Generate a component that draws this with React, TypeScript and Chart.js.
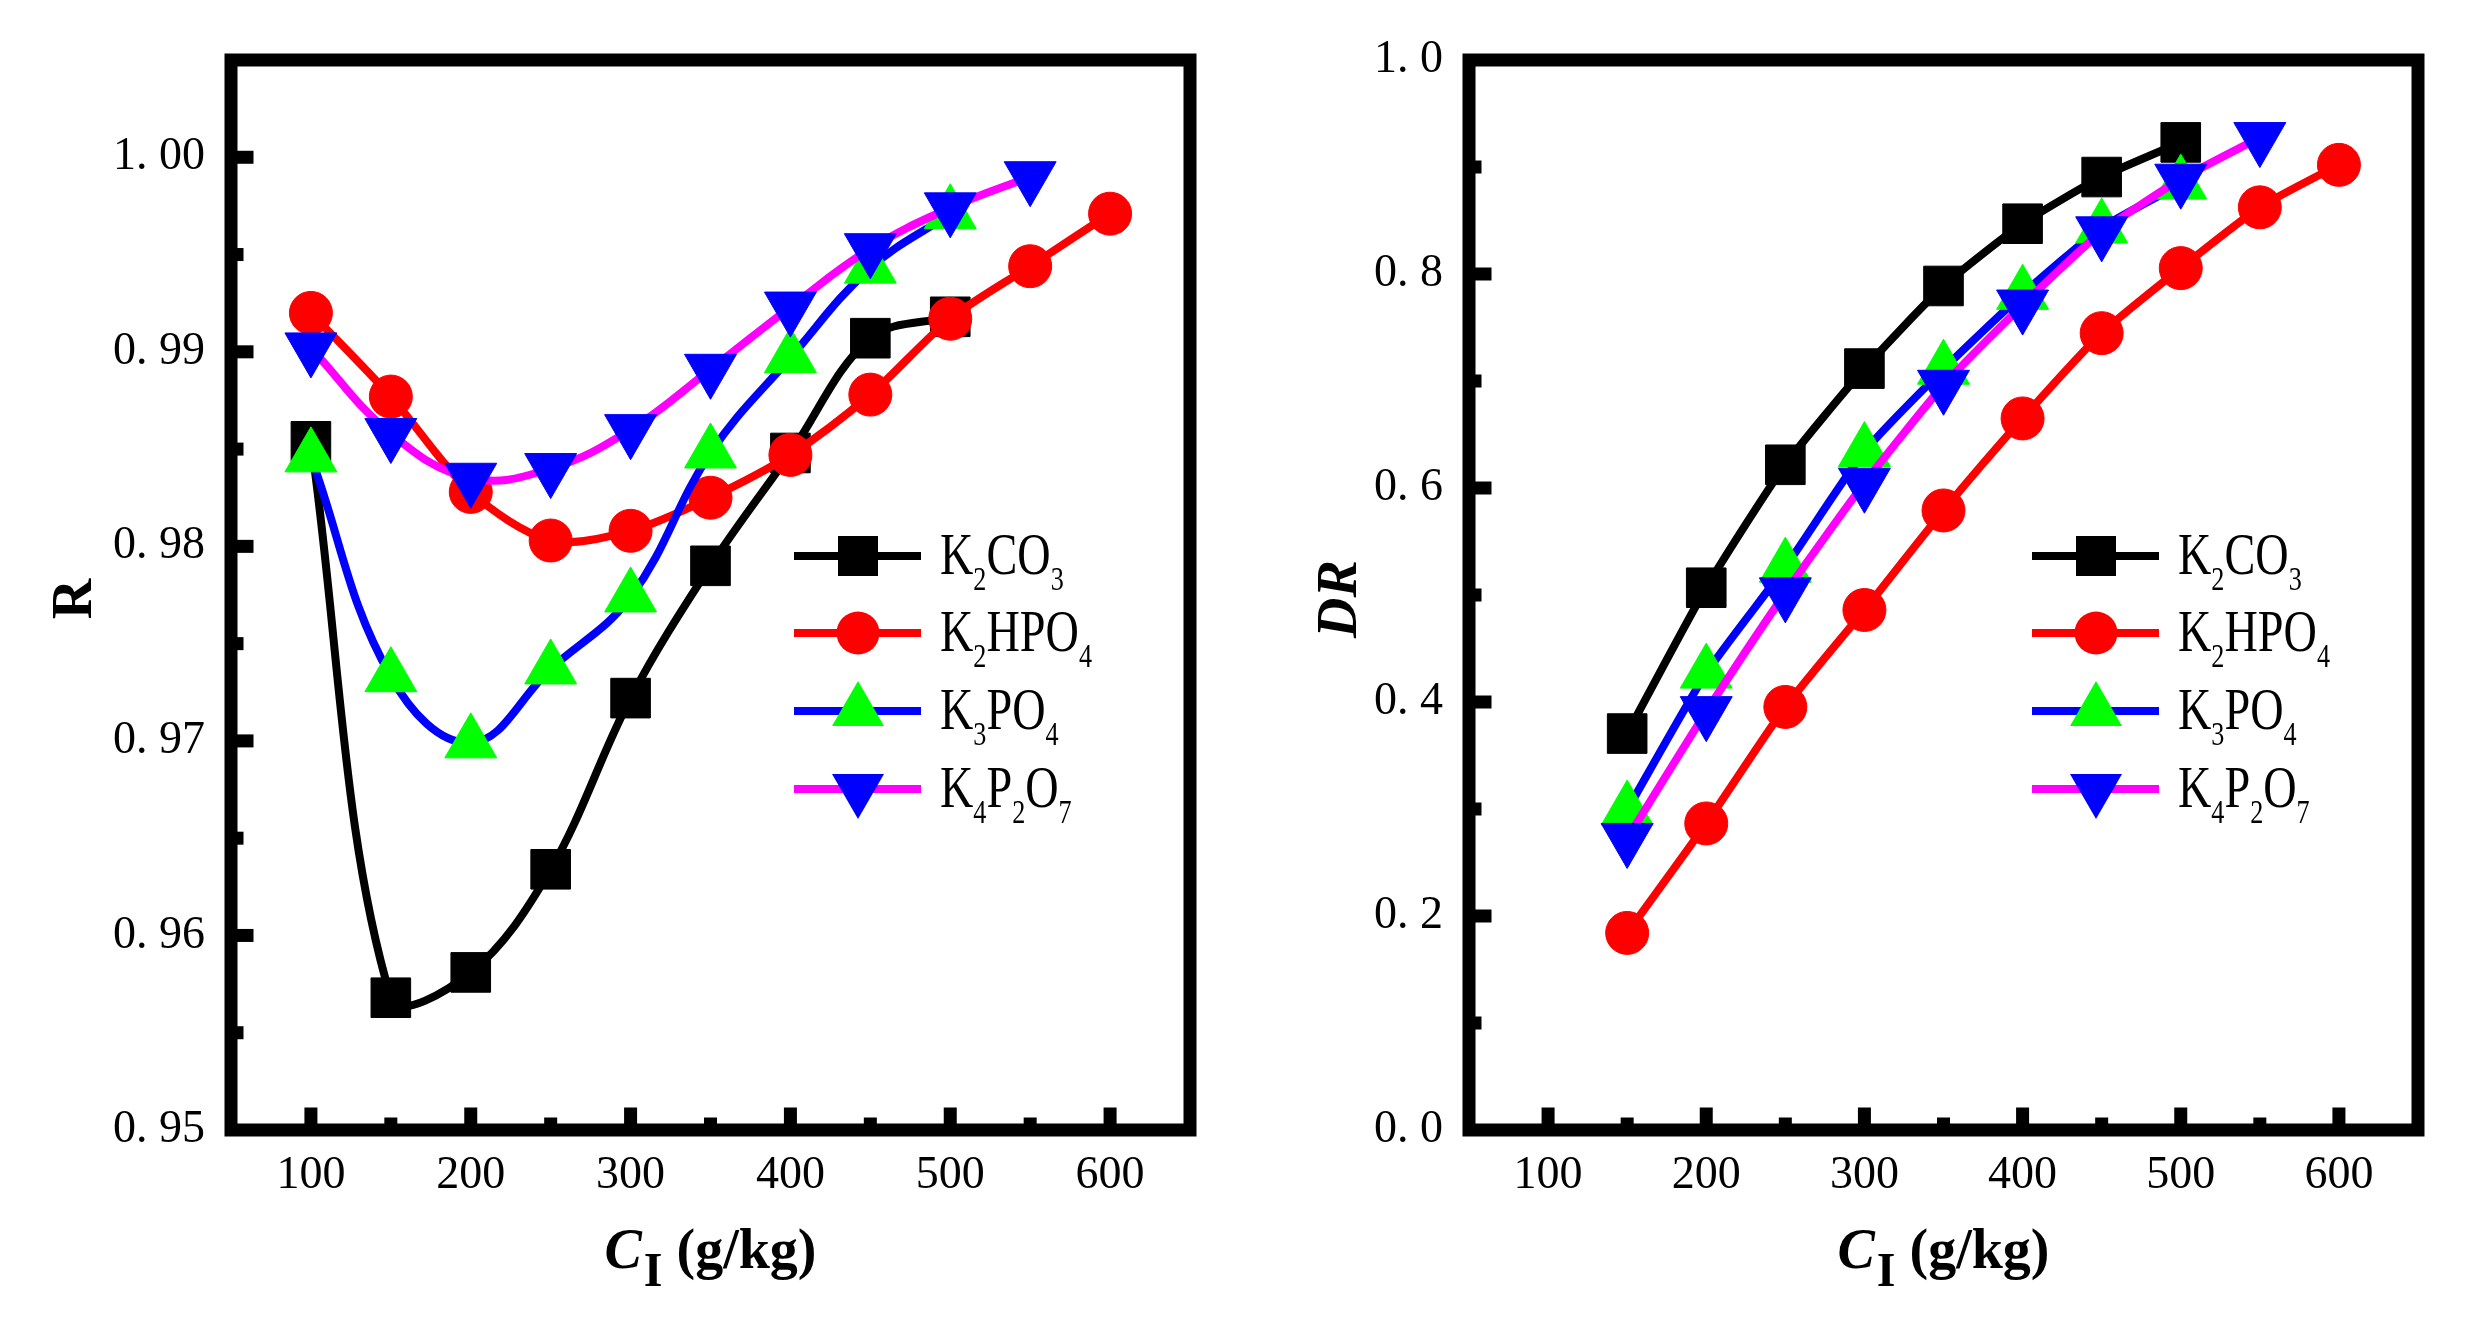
import React, { useEffect, useRef } from 'react';
import { Chart, registerables } from 'chart.js';

Chart.register(...registerables);

// ---------- data ----------
const SERIES_NAMES = ['K2CO3', 'K2HPO4', 'K3PO4', 'K4P2O7'];
const SERIES_LABELS = ['K₂CO₃', 'K₂HPO₄', 'K₃PO₄', 'K₄P₂O₇'];
const LINE_COLORS = ['#000000', '#ff0000', '#0000ff', '#ff00ff'];
const MARKER_COLORS = ['#000000', '#ff0000', '#00ff00', '#0000ff'];
const MARKER_STYLES = ['square', 'circle', 'triangleUp', 'triangleDown'];

const X_TICKS = [100, 200, 300, 400, 500, 600];

// Left panel: R
const R_X_K2CO3 = [100, 150, 200, 250, 300, 350, 400, 450, 500];
const R_K2CO3 = [0.9854, 0.9568, 0.9581, 0.9634, 0.9722, 0.979, 0.9848, 0.9907, 0.9918];
const R_X_K2HPO4 = [100, 150, 200, 250, 300, 350, 400, 450, 500, 550, 600];
const R_K2HPO4 = [0.992, 0.9877, 0.9828, 0.9803, 0.9808, 0.9825, 0.9847, 0.9878, 0.9917, 0.9944, 0.9971];
const R_X_K3PO4 = [100, 150, 200, 250, 300, 350, 400, 450, 500];
const R_K3PO4 = [0.9846, 0.9733, 0.9699, 0.9737, 0.9774, 0.9848, 0.9897, 0.9943, 0.9971];
const R_X_K4P2O7 = [100, 150, 200, 250, 300, 350, 400, 450, 500, 550];
const R_K4P2O7 = [0.9902, 0.9858, 0.9835, 0.984, 0.986, 0.9891, 0.9923, 0.9953, 0.9974, 0.999];
const R_Y_TICKS = [0.95, 0.96, 0.97, 0.98, 0.99, 1.0];

// Right panel: DR
const DR_X_K2CO3 = [150, 200, 250, 300, 350, 400, 450, 500];
const DR_K2CO3 = [0.3705, 0.5068, 0.6217, 0.7116, 0.7888, 0.847, 0.8906, 0.923];
const DR_X_K2HPO4 = [150, 200, 250, 300, 350, 400, 450, 500, 550, 600];
const DR_K2HPO4 = [0.1842, 0.2865, 0.3954, 0.486, 0.579, 0.665, 0.7447, 0.8055, 0.8623, 0.902];
const DR_X_K3PO4 = [150, 200, 250, 300, 350, 400, 450, 500];
const DR_K3PO4 = [0.299, 0.427, 0.526, 0.634, 0.711, 0.781, 0.843, 0.884];
const DR_X_K4P2O7 = [150, 200, 250, 300, 350, 400, 450, 500, 550];
const DR_K4P2O7 = [0.2725, 0.391, 0.502, 0.6045, 0.696, 0.771, 0.8394, 0.8886, 0.9275];
const DR_Y_TICKS = [0.0, 0.2, 0.4, 0.6, 0.8, 1.0];

// ---------- styling ----------
const FONT = '"Liberation Serif", "Times New Roman", serif';
const FRAME_W = 13;
const MAJOR_LEN = 16;
const MINOR_LEN = 6;

function isMember(list: number[], v: number) {
  return list.some((t) => Math.abs(t - v) < 1e-7);
}

function drawMarker(ctx: CanvasRenderingContext2D, style: string, cx: number, cy: number, color: string) {
  ctx.fillStyle = color;
  ctx.beginPath();
  if (style === 'square') {
    ctx.rect(cx - 20, cy - 20, 40, 40);
  } else if (style === 'circle') {
    ctx.arc(cx, cy, 21.5, 0, Math.PI * 2);
  } else if (style === 'triangleUp') {
    ctx.moveTo(cx, cy - 30);
    ctx.lineTo(cx + 26, cy + 15);
    ctx.lineTo(cx - 26, cy + 15);
    ctx.closePath();
  } else {
    ctx.moveTo(cx, cy + 30);
    ctx.lineTo(cx + 26, cy - 15);
    ctx.lineTo(cx - 26, cy - 15);
    ctx.closePath();
  }
  ctx.fill();
}

function drawFormula(ctx: CanvasRenderingContext2D, f: string, x: number, y: number) {
  ctx.save();
  ctx.translate(x, y);
  ctx.scale(0.77, 1);
  ctx.fillStyle = '#000';
  ctx.textBaseline = 'alphabetic';
  ctx.textAlign = 'left';
  const runs = f.match(/\d+|\D+/g) || [];
  let cx = 0;
  for (const run of runs) {
    const sub = /\d/.test(run);
    ctx.font = sub ? `34px ${FONT}` : `60px ${FONT}`;
    ctx.fillText(run, cx, sub ? 16 : 0);
    cx += ctx.measureText(run).width;
  }
  ctx.restore();
}

type PanelCfg = {
  yTitle: string;
  yItalic: boolean;
  yTitleX: number;
  padRight: number;
  yAxisWidth: number;
  yMin: number;
  yMax: number;
  yStep: number;
  yMajor: number[];
  yDigits: number;
  xs: number[][];
  ys: number[][];
  tension: number[];
};

function makeDecorPlugin(cfg: PanelCfg) {
  return {
    id: 'decor',
    afterDatasetsDraw(chart: any) {
      const { ctx, chartArea: a } = chart;
      const xs = chart.scales.x;
      const ys = chart.scales.y;
      const half = FRAME_W / 2;
      ctx.save();
      ctx.fillStyle = '#000';
      xs.ticks.forEach((t: any) => {
        if (t.value <= xs.min + 1e-9 || t.value >= xs.max - 1e-9) return;
        const len = isMember(X_TICKS, t.value) ? MAJOR_LEN : MINOR_LEN;
        const px = xs.getPixelForValue(t.value);
        ctx.fillRect(px - half, a.bottom - half - len, FRAME_W, len + half);
      });
      ys.ticks.forEach((t: any) => {
        if (t.value <= ys.min + 1e-9 || t.value >= ys.max - 1e-9) return;
        const len = isMember(cfg.yMajor, t.value) ? MAJOR_LEN : MINOR_LEN;
        const py = ys.getPixelForValue(t.value);
        ctx.fillRect(a.left, py - half, half + len, FRAME_W);
      });
      ctx.lineWidth = FRAME_W;
      ctx.strokeStyle = '#000';
      ctx.lineJoin = 'miter';
      ctx.strokeRect(a.left, a.top, a.right - a.left, a.bottom - a.top);
      ctx.restore();
    },
    afterDraw(chart: any) {
      const { ctx, chartArea: a } = chart;
      ctx.save();
      // legend
      const rows = [556, 633, 711, 789];
      SERIES_NAMES.forEach((name, i) => {
        const y = rows[i];
        const x0 = a.left + 563;
        const x1 = a.left + 690;
        ctx.strokeStyle = LINE_COLORS[i];
        ctx.lineWidth = 8;
        ctx.lineCap = 'butt';
        ctx.beginPath();
        ctx.moveTo(x0, y);
        ctx.lineTo(x1, y);
        ctx.stroke();
        drawMarker(ctx, MARKER_STYLES[i], a.left + 627, y, MARKER_COLORS[i]);
        drawFormula(ctx, name, a.left + 709, y + 18);
      });
      // x title: C_I (g/kg)
      ctx.fillStyle = '#000';
      ctx.textBaseline = 'alphabetic';
      ctx.textAlign = 'left';
      const base = 1268;
      const fC = `italic bold 56px ${FONT}`;
      const fI = `bold 48px ${FONT}`;
      const fU = `bold 56px ${FONT}`;
      ctx.font = fC;
      const wC = ctx.measureText('C').width;
      ctx.font = fI;
      const wI = ctx.measureText('I').width;
      ctx.font = fU;
      const unit = ' (g/kg)';
      const wU = ctx.measureText(unit).width;
      const total = wC + 2 + wI + wU;
      let x = (a.left + a.right) / 2 - total / 2;
      ctx.font = fC;
      ctx.fillText('C', x, base);
      x += wC + 2;
      ctx.font = fI;
      ctx.fillText('I', x, base + 18);
      x += wI;
      ctx.font = fU;
      ctx.fillText(unit, x, base);
      // y title
      ctx.translate(cfg.yTitleX, (a.top + a.bottom) / 2 + 4);
      ctx.rotate(-Math.PI / 2);
      ctx.textAlign = 'center';
      ctx.textBaseline = 'middle';
      ctx.font = `${cfg.yItalic ? 'italic ' : ''}bold 56px ${FONT}`;
      ctx.fillText(cfg.yTitle, 0, 0);
      ctx.restore();
    },
  };
}

function buildConfig(cfg: PanelCfg): any {
  const datasets = SERIES_NAMES.map((_, i) => {
    const style = MARKER_STYLES[i];
    const pointStyle = style === 'square' ? 'rect' : style === 'circle' ? 'circle' : 'triangle';
    const radius = style === 'square' ? 28 : style === 'circle' ? 21.5 : 30;
    return {
      label: SERIES_LABELS[i],
      data: cfg.xs[i].map((xv, j) => ({ x: xv, y: cfg.ys[i][j] })),
      borderColor: LINE_COLORS[i],
      backgroundColor: MARKER_COLORS[i],
      borderWidth: 8,
      pointStyle,
      pointRotation: style === 'triangleDown' ? 180 : 0,
      pointRadius: radius,
      pointHoverRadius: radius,
      pointBackgroundColor: MARKER_COLORS[i],
      pointBorderColor: MARKER_COLORS[i],
      pointBorderWidth: 1,
      tension: cfg.tension[i],
      fill: false,
      order: SERIES_NAMES.length - i,
    };
  });
  const tickFont = { family: FONT, size: 46 };
  return {
    type: 'line',
    data: { datasets },
    options: {
      animation: false,
      responsive: false,
      devicePixelRatio: 1,
      events: [],
      layout: { padding: { top: 60, right: cfg.padRight, left: 0, bottom: 0 } },
      plugins: { legend: { display: false }, tooltip: { enabled: false } },
      scales: {
        x: {
          type: 'linear',
          min: 50,
          max: 650,
          grid: { display: false, drawTicks: false },
          border: { display: false },
          afterFit: (s: any) => {
            s.height = 194;
          },
          ticks: {
            stepSize: 50,
            autoSkip: false,
            maxRotation: 0,
            padding: 18,
            color: '#000',
            font: tickFont,
            callback: (v: any) => (isMember(X_TICKS, Number(v)) ? String(v) : ''),
          },
        },
        y: {
          type: 'linear',
          min: cfg.yMin,
          max: cfg.yMax,
          grid: { display: false, drawTicks: false },
          border: { display: false },
          afterFit: (s: any) => {
            s.width = cfg.yAxisWidth;
          },
          ticks: {
            stepSize: cfg.yStep,
            autoSkip: false,
            padding: 26,
            color: '#000',
            font: tickFont,
            callback: (v: any) =>
              isMember(cfg.yMajor, Number(v)) ? Number(v).toFixed(cfg.yDigits).replace('.', '. ') : '',
          },
        },
      },
    },
    plugins: [makeDecorPlugin(cfg)],
  };
}

const LEFT_CFG: PanelCfg = {
  yTitle: 'R',
  yItalic: false,
  yTitleX: 77,
  padRight: 50,
  yAxisWidth: 231,
  yMin: 0.95,
  yMax: 1.005,
  yStep: 0.005,
  yMajor: R_Y_TICKS,
  yDigits: 2,
  xs: [R_X_K2CO3, R_X_K2HPO4, R_X_K3PO4, R_X_K4P2O7],
  ys: [R_K2CO3, R_K2HPO4, R_K3PO4, R_K4P2O7],
  tension: [0.35, 0.3, 0.4, 0.4],
};

const RIGHT_CFG: PanelCfg = {
  yTitle: 'DR',
  yItalic: true,
  yTitleX: 102,
  padRight: 62,
  yAxisWidth: 229,
  yMin: 0,
  yMax: 1.0,
  yStep: 0.1,
  yMajor: DR_Y_TICKS,
  yDigits: 1,
  xs: [DR_X_K2CO3, DR_X_K2HPO4, DR_X_K3PO4, DR_X_K4P2O7],
  ys: [DR_K2CO3, DR_K2HPO4, DR_K3PO4, DR_K4P2O7],
  tension: [0.2, 0.2, 0.2, 0.2],
};

function Panel({ cfg, left }: { cfg: PanelCfg; left: number }) {
  const ref = useRef<HTMLCanvasElement | null>(null);
  useEffect(() => {
    if (!ref.current) return;
    const chart = new Chart(ref.current, buildConfig(cfg));
    return () => chart.destroy();
  }, [cfg]);
  return (
    <canvas
      ref={ref}
      width={1240}
      height={1324}
      style={{ position: 'absolute', left, top: 0, width: 1240, height: 1324 }}
    />
  );
}

export default function App() {
  return (
    <div
      style={{
        position: 'fixed',
        left: 0,
        top: 0,
        width: 2480,
        height: 1324,
        background: '#ffffff',
        overflow: 'hidden',
      }}
    >
      <Panel cfg={LEFT_CFG} left={0} />
      <Panel cfg={RIGHT_CFG} left={1240} />
    </div>
  );
}
